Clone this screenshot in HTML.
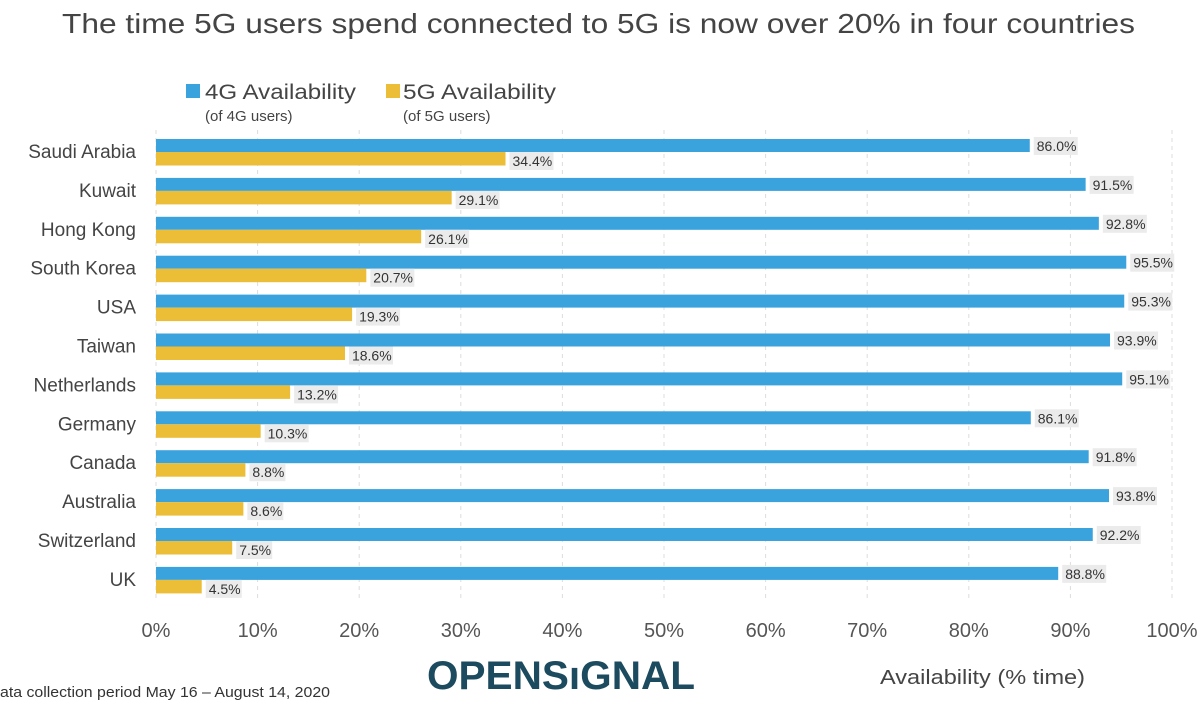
<!DOCTYPE html>
<html><head><meta charset="utf-8"><style>
body{margin:0;background:#fff;width:1200px;height:701px;overflow:hidden}
svg{display:block;font-family:"Liberation Sans",sans-serif}
</style></head><body>
<svg id="s" width="1200" height="701" viewBox="0 0 1200 701" xmlns="http://www.w3.org/2000/svg">
<text x="62" y="33" font-size="28" fill="#444" textLength="1073" lengthAdjust="spacingAndGlyphs">The time 5G users spend connected to 5G is now over 20% in four countries</text>
<rect x="186" y="84" width="14" height="14" fill="#3aa2dc"/>
<text x="205" y="99" font-size="21" fill="#444" textLength="151" lengthAdjust="spacingAndGlyphs">4G Availability</text>
<text x="205" y="121" font-size="15" fill="#444">(of 4G users)</text>
<rect x="386" y="84" width="14" height="14" fill="#ecbd36"/>
<text x="403" y="99" font-size="21" fill="#444" textLength="153" lengthAdjust="spacingAndGlyphs">5G Availability</text>
<text x="403" y="121" font-size="15" fill="#444">(of 5G users)</text>
<g id="g"></g>
<text x="0" y="697" font-size="15" fill="#333" textLength="330" lengthAdjust="spacingAndGlyphs">ata collection period May 16 – August 14, 2020</text>
<text x="427" y="689" font-size="40" font-weight="bold" fill="#1c4a5e" textLength="268" lengthAdjust="spacingAndGlyphs">OPENSıGNAL</text>
<text x="880" y="684" font-size="20" fill="#444" textLength="205" lengthAdjust="spacingAndGlyphs">Availability (% time)</text>
</svg>
<script>
var d=[["Saudi Arabia",86.0,34.4],["Kuwait",91.5,29.1],["Hong Kong",92.8,26.1],["South Korea",95.5,20.7],["USA",95.3,19.3],["Taiwan",93.9,18.6],["Netherlands",95.1,13.2],["Germany",86.1,10.3],["Canada",91.8,8.8],["Australia",93.8,8.6],["Switzerland",92.2,7.5],["UK",88.8,4.5]];
var x0=156,k=10.16,h='';
for(var i=0;i<=10;i++){var x=x0+i*10*k;
h+='<line x1="'+x+'" y1="130" x2="'+x+'" y2="600" stroke="#ddd" stroke-dasharray="4,4"/>';
h+='<text x="'+x+'" y="637" font-size="20" fill="#555" text-anchor="middle">'+(i*10)+'%</text>';}
d.forEach(function(r,i){var y=139+i*38.9;
h+='<text x="136" y="'+(y+19)+'" font-size="19" fill="#444" text-anchor="end">'+r[0]+'</text>';
var w1=r[1]*k,w2=r[2]*k;
h+='<rect x="'+x0+'" y="'+y+'" width="'+w1+'" height="13" fill="#3aa2dc"/>';
h+='<rect x="'+x0+'" y="'+(y+13)+'" width="'+w2+'" height="13.5" fill="#ecbd36"/>';
h+='<rect x="'+(x0+w1+4)+'" y="'+(y-2)+'" width="44" height="18" fill="#ebebeb"/>';
h+='<text x="'+(x0+w1+7)+'" y="'+(y+12)+'" font-size="14" fill="#333">'+r[1].toFixed(1)+'%</text>';
var lw=r[2]<10?36:44;
h+='<rect x="'+(x0+w2+4)+'" y="'+(y+13)+'" width="'+lw+'" height="18" fill="#ebebeb"/>';
h+='<text x="'+(x0+w2+7)+'" y="'+(y+27)+'" font-size="14" fill="#333">'+r[2].toFixed(1)+'%</text>';
});
document.getElementById('g').innerHTML=h;
</script>
</body></html>
